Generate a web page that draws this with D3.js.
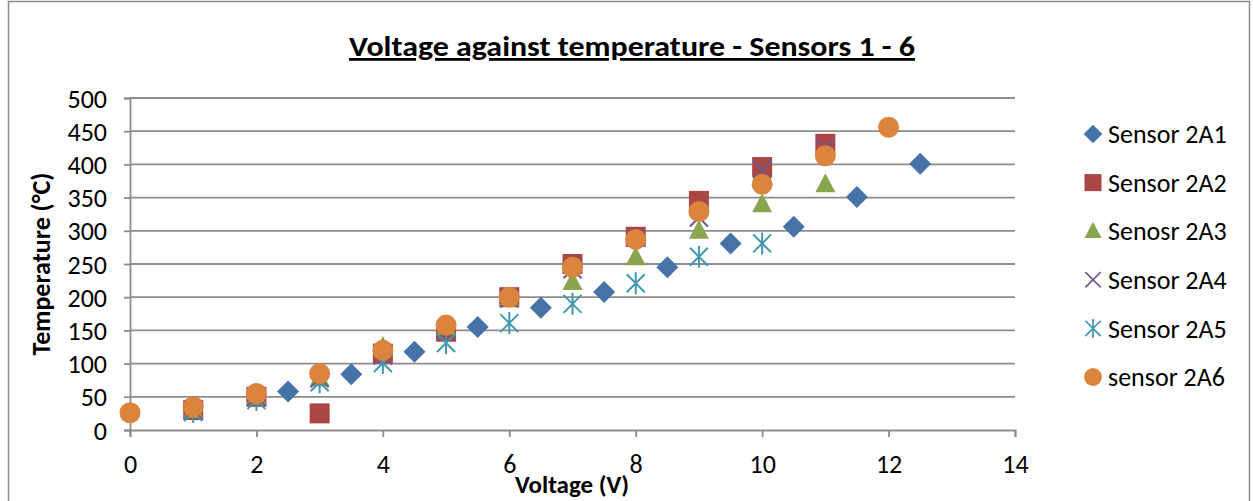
<!DOCTYPE html>
<html>
<head>
<meta charset="utf-8">
<script src="https://cdn.jsdelivr.net/npm/d3@7"></script>
<style>
  body { margin: 0; background: #fff; }
  text { font-family: Carlito, Calibri, "Liberation Sans", sans-serif; }
</style>
</head>
<body>
<div id="chart"></div>
<script>
// data
var names = ["Sensor 2A1", "Sensor 2A2", "Senosr 2A3", "Sensor 2A4", "Sensor 2A5", "sensor 2A6"];

var volts1 = [2.5, 3.5, 4.5, 5.5, 6.5, 7.5, 8.5, 9.5, 10.5, 11.5, 12.5];
var temps1 = [58, 84, 118, 155, 184, 208, 245, 281, 306, 351, 401];

var volts2 = [1, 2, 3, 4, 5, 6, 7, 8, 9, 10, 11];
var temps2 = [30, 50, 25, 115, 148, 200, 250, 291, 345, 396, 431];

var volts3 = [1, 2, 3, 4, 5, 6, 7, 8, 9, 10, 11];
var temps3 = [30, 50, 78, 125, 155, 198, 223, 260, 300, 340, 370];

var volts4 = [1, 2, 3, 4, 5, 6, 7, 8, 9, 10, 11];
var temps4 = [30, 50, 78, 112, 150, 198, 242, 290, 320, 392, 425];

var volts5 = [1, 2, 3, 4, 5, 6, 7, 8, 9, 10];
var temps5 = [27, 45, 72, 101, 131, 161, 190, 221, 261, 281];

var volts6 = [0, 1, 2, 3, 4, 5, 6, 7, 8, 9, 10, 11, 12];
var temps6 = [26, 35, 55, 85, 120, 158, 200, 245, 287, 329, 370, 413, 456];

var xTicks = [0, 2, 4, 6, 8, 10, 12, 14];
var yTicks = [0, 50, 100, 150, 200, 250, 300, 350, 400, 450, 500];

var colors = ["#4572A7", "#AA4643", "#89A54E", "#71588F", "#4198AF", "#DB843D"];
var shapes = ["diamond", "square", "triangle", "cross", "star", "circle"];

var series = [
  [volts1, temps1], [volts2, temps2], [volts3, temps3],
  [volts4, temps4], [volts5, temps5], [volts6, temps6]
];

var width = 1253, height = 501;
var plotLeft = 130, plotRight = 1015, plotTop = 98, plotBottom = 430;

var svg = d3.select('#chart').append('svg')
  .attr('width', width)
  .attr('height', height);

// outer chart frame
svg.append('rect')
  .attr('x', 8.5).attr('y', 1.5)
  .attr('width', 1241).attr('height', 520)
  .attr('fill', 'none').attr('stroke', '#8c8c8c').attr('stroke-width', 1.5);

var x = d3.scaleLinear().domain([0, 14]).range([plotLeft, plotRight]);
var y = d3.scaleLinear().domain([0, 500]).range([plotBottom, plotTop]);

// grid lines
svg.append('g').selectAll('line')
  .data(yTicks.slice(1))
  .enter().append('line')
  .attr('x1', plotLeft).attr('x2', plotRight)
  .attr('y1', function(d) { return y(d); })
  .attr('y2', function(d) { return y(d); })
  .attr('stroke', '#8c8c8c').attr('stroke-width', 1.8);

// axes
var xAxis = svg.append('g')
  .attr('transform', 'translate(0,' + plotBottom + ')')
  .call(d3.axisBottom(x).tickValues(xTicks).tickSize(7).tickPadding(18));
var yAxis = svg.append('g')
  .attr('transform', 'translate(' + plotLeft + ',0)')
  .call(d3.axisLeft(y).tickValues(yTicks).tickSize(6).tickPadding(17));

[xAxis, yAxis].forEach(function(ax) {
  ax.select('.domain').attr('stroke', '#8c8c8c').attr('stroke-width', 1.8);
  ax.selectAll('.tick line').attr('stroke', '#8c8c8c').attr('stroke-width', 1.8);
  ax.selectAll('.tick text')
    .attr('fill', '#000')
    .style('font-size', '26px')
    .style('font-family', 'Carlito, Calibri, "Liberation Sans", sans-serif');
});
yAxis.selectAll('.tick text').attr('dy', '0.35em');

// marker drawing
function drawMarker(g, shape, color) {
  if (shape === 'diamond') {
    g.append('path').attr('d', 'M0,-11L11,0L0,11L-11,0Z').attr('fill', color);
  } else if (shape === 'square') {
    g.append('rect').attr('x', -10).attr('y', -10).attr('width', 20).attr('height', 20).attr('fill', color);
  } else if (shape === 'triangle') {
    g.append('path').attr('d', 'M0,-11L10,8L-10,8Z').attr('fill', color);
  } else if (shape === 'cross') {
    g.append('path').attr('d', 'M-9,-9L9,9M9,-9L-9,9').attr('stroke', color).attr('stroke-width', 2).attr('fill', 'none');
  } else if (shape === 'star') {
    g.append('path').attr('d', 'M-9,-9L9,9M9,-9L-9,9M0,-11L0,11').attr('stroke', color).attr('stroke-width', 2).attr('fill', 'none');
  } else {
    g.append('circle').attr('r', 10.5).attr('fill', color);
  }
}

// points
series.forEach(function(s, i) {
  var pts = s[0].map(function(v, j) { return {v: v, t: s[1][j]}; });
  svg.append('g').selectAll('g')
    .data(pts)
    .enter().append('g')
    .attr('transform', function(d) { return 'translate(' + x(d.v) + ',' + y(d.t) + ')'; })
    .each(function() { drawMarker(d3.select(this), shapes[i], colors[i]); });
});

// legend
var legend = svg.append('g').selectAll('g')
  .data(names)
  .enter().append('g')
  .attr('transform', function(d, i) { return 'translate(1093,' + (134 + i * 48.6) + ')'; });
legend.each(function(d, i) {
  var g = d3.select(this).append('g').attr('transform', 'scale(0.85)');
  drawMarker(g, shapes[i], colors[i]);
});
legend.append('text')
  .attr('x', 15).attr('dy', '0.35em')
  .style('font-size', '26px')
  .text(function(d) { return d; });

// title
svg.append('text')
  .attr('x', 632).attr('y', 56)
  .attr('text-anchor', 'middle')
  .attr('textLength', 566).attr('lengthAdjust', 'spacingAndGlyphs')
  .style('font-size', '28px').style('font-weight', 'bold')
  .style('text-decoration', 'underline')
  .text('Voltage against temperature - Sensors 1 - 6');

// axis titles
svg.append('text')
  .attr('x', 572).attr('y', 493)
  .attr('text-anchor', 'middle')
  .style('font-size', '25px').style('font-weight', 'bold')
  .text('Voltage (V)');

svg.append('text')
  .attr('transform', 'translate(50,264) rotate(-90)')
  .attr('text-anchor', 'middle')
  .style('font-size', '26px').style('font-weight', 'bold')
  .text('Temperature (°C)');
</script>
</body>
</html>
